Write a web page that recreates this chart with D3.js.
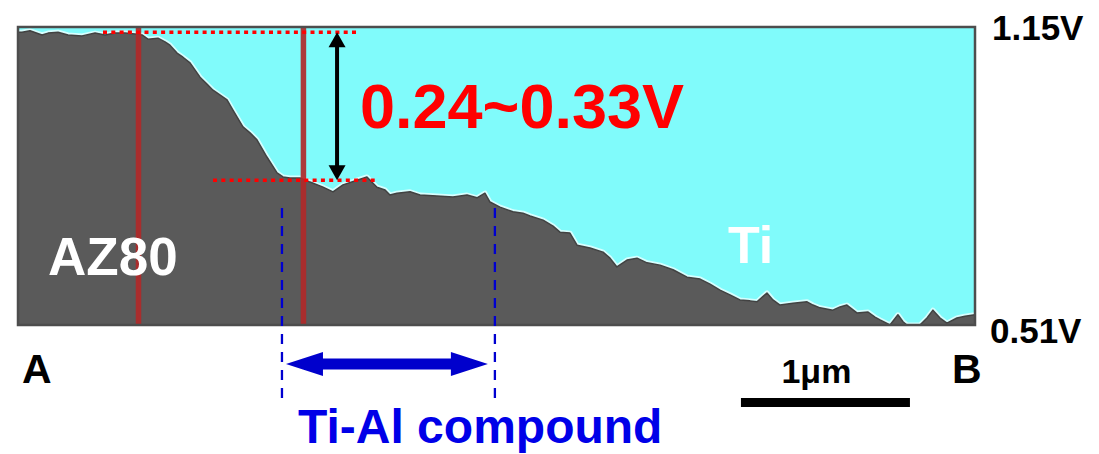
<!DOCTYPE html>
<html>
<head>
<meta charset="utf-8">
<script src="https://cdn.jsdelivr.net/npm/d3@7"></script>
<style>
  html, body { margin: 0; padding: 0; background: #fff; }
  svg { display: block; font-family: "Liberation Sans", Arial, sans-serif; font-weight: bold; }
</style>
</head>
<body>
<svg id="chart" width="1099" height="454"></svg>
<script>
// Surface potential profile along the line A -> B (distance in µm, potential in V)
const distance = [
  0.000, 0.024, 0.071, 0.142, 0.178, 0.237, 0.296, 0.379, 0.456, 0.515,
  0.574, 0.633, 0.692, 0.734, 0.769, 0.828, 0.870, 0.899, 0.941, 0.976,
  1.018, 1.077, 1.118, 1.154, 1.237, 1.272, 1.331, 1.373, 1.414, 1.473,
  1.533, 1.568, 1.609, 1.669, 1.728, 1.805, 1.864, 1.923, 2.006, 2.065,
  2.124, 2.172, 2.201, 2.243, 2.320, 2.379, 2.479, 2.574, 2.657, 2.716,
  2.763, 2.793, 2.852, 2.929, 2.988, 3.030, 3.107, 3.166, 3.207, 3.266,
  3.308, 3.385, 3.462, 3.503, 3.544, 3.604, 3.663, 3.722, 3.799, 3.876,
  3.959, 4.036, 4.095, 4.154, 4.213, 4.272, 4.331, 4.373, 4.432, 4.467,
  4.509, 4.586, 4.669, 4.704, 4.746, 4.822, 4.864, 4.905, 4.964, 5.030,
  5.071, 5.101, 5.160, 5.207, 5.237, 5.260, 5.337, 5.379, 5.414, 5.456,
  5.497, 5.556, 5.604, 5.663
];
const potential = [
  1.141, 1.141, 1.144, 1.135, 1.139, 1.141, 1.135, 1.133, 1.139, 1.135,
  1.139, 1.139, 1.137, 1.135, 1.126, 1.128, 1.120, 1.113, 1.096, 1.087,
  1.075, 1.044, 1.029, 1.016, 0.995, 0.973, 0.937, 0.924, 0.909, 0.872,
  0.838, 0.829, 0.827, 0.827, 0.818, 0.807, 0.797, 0.812, 0.822, 0.829,
  0.807, 0.801, 0.790, 0.794, 0.797, 0.790, 0.788, 0.786, 0.790, 0.784,
  0.794, 0.775, 0.764, 0.754, 0.751, 0.745, 0.736, 0.723, 0.710, 0.708,
  0.682, 0.676, 0.667, 0.654, 0.635, 0.650, 0.654, 0.644, 0.639, 0.629,
  0.613, 0.609, 0.598, 0.585, 0.575, 0.564, 0.562, 0.560, 0.579, 0.564,
  0.553, 0.557, 0.560, 0.553, 0.547, 0.542, 0.549, 0.553, 0.536, 0.538,
  0.527, 0.521, 0.510, 0.532, 0.517, 0.510, 0.510, 0.525, 0.542, 0.525,
  0.514, 0.525, 0.529, 0.532
];

// Axis extent labels
const vRange = [0.51, 1.15];
const vLabels = ["0.51V", "1.15V"];
const lineTotal = 5.663;           // µm from A to B
const endLabels = ["A", "B"];

// Annotations
const markerLines = [0.713, 1.689];        // red vertical markers (µm)
const levelTop = { v: 1.141, from: 0.503, to: 2.012 };
const levelLow = { v: 0.822, from: 1.154, to: 2.130 };
const diffArrowAt = 1.888;
const diffLabel = "0.24~0.33V";
const compoundSpan = [1.562, 2.822];
const compoundLabel = "Ti-Al compound";
const scaleBar = [4.278, 5.278];
const scaleLabel = "1μm";
const regionLabels = [
  { text: "AZ80", x: 0.178, v: 0.618, size: 53 },
  { text: "Ti", x: 4.201, v: 0.644, size: 52 }
];

const svg = d3.select("#chart");
const plotLeft = 18, plotRight = 975, plotTop = 28, plotBottom = 325;

const x = d3.scaleLinear().domain([0, lineTotal]).range([plotLeft, plotRight]);
const y = d3.scaleLinear().domain(vRange).range([plotBottom, plotTop]);

const pts = distance.map((d, i) => [d, potential[i]]);

const defs = svg.append("defs");
defs.append("clipPath").attr("id", "plotClip")
  .append("rect").attr("x", plotLeft).attr("y", plotTop)
  .attr("width", plotRight - plotLeft).attr("height", plotBottom - plotTop);

// Background (Ti side)
svg.append("rect").attr("x", plotLeft).attr("y", plotTop)
  .attr("width", plotRight - plotLeft).attr("height", plotBottom - plotTop)
  .attr("fill", "#80fbfb");

const plot = svg.append("g").attr("clip-path", "url(#plotClip)");

const line = d3.line().x(d => x(d[0])).y(d => y(d[1]));
const area = d3.area().x(d => x(d[0])).y0(plotBottom).y1(d => y(d[1]));

// light rim along the profile
plot.append("path").datum(pts).attr("d", line)
  .attr("fill", "none").attr("stroke", "#d6ffff").attr("stroke-width", 5).attr("stroke-linejoin", "round");

plot.append("path").datum(pts).attr("d", area).attr("fill", "#5a5a5a");

plot.append("path").datum(pts).attr("d", line)
  .attr("fill", "none").attr("stroke", "#424242").attr("stroke-width", 1.5).attr("stroke-linejoin", "round");

// red vertical markers
plot.selectAll("line.marker").data(markerLines).join("line").attr("class", "marker")
  .attr("x1", d => x(d)).attr("x2", d => x(d)).attr("y1", plotTop).attr("y2", plotBottom)
  .attr("stroke", "#b02a2a").attr("stroke-width", 5.5).attr("opacity", 0.92);

// frame
svg.append("rect").attr("x", plotLeft).attr("y", plotTop - 1)
  .attr("width", plotRight - plotLeft).attr("height", plotBottom - plotTop + 1)
  .attr("fill", "none").attr("stroke", "#4d4d4d").attr("stroke-width", 2.5);

// red dotted reference levels
[levelTop, levelLow].forEach(l => {
  svg.append("line")
    .attr("x1", x(l.from)).attr("x2", x(l.to)).attr("y1", y(l.v)).attr("y2", y(l.v))
    .attr("stroke", "#ff0000").attr("stroke-width", 3.5).attr("stroke-dasharray", "4,4.3");
});

// black double arrow for the potential difference
const ax = x(diffArrowAt), ay1 = y(levelTop.v), ay2 = y(levelLow.v);
const headH = 15, headW = 8.5;
svg.append("line").attr("x1", ax).attr("x2", ax).attr("y1", ay1 + headH - 2).attr("y2", ay2 - headH + 2)
  .attr("stroke", "#000").attr("stroke-width", 4);
svg.append("path").attr("fill", "#000")
  .attr("d", `M${ax},${ay1} L${ax - headW},${ay1 + headH} L${ax + headW},${ay1 + headH} Z`);
svg.append("path").attr("fill", "#000")
  .attr("d", `M${ax},${ay2} L${ax - headW},${ay2 - headH} L${ax + headW},${ay2 - headH} Z`);

svg.append("text").attr("x", 360).attr("y", 128).attr("fill", "#ff0000")
  .attr("font-size", 63).text(diffLabel);

// Ti-Al compound span
compoundSpan.forEach(d => {
  svg.append("line").attr("x1", x(d)).attr("x2", x(d)).attr("y1", 208).attr("y2", 400)
    .attr("stroke", "#0000d0").attr("stroke-width", 2.3).attr("stroke-dasharray", "10,8");
});
const bx1 = x(compoundSpan[0]) + 4, bx2 = x(compoundSpan[1]) - 7, by = 364;
const bHeadL = 37, bHeadW = 12, bShaft = 5.5;
svg.append("path").attr("fill", "#0000cc")
  .attr("d", `M${bx1},${by} L${bx1 + bHeadL},${by - bHeadW} L${bx1 + bHeadL},${by - bShaft}
              L${bx2 - bHeadL},${by - bShaft} L${bx2 - bHeadL},${by - bHeadW} L${bx2},${by}
              L${bx2 - bHeadL},${by + bHeadW} L${bx2 - bHeadL},${by + bShaft}
              L${bx1 + bHeadL},${by + bShaft} L${bx1 + bHeadL},${by + bHeadW} Z`);
svg.append("text").attr("x", 298).attr("y", 443).attr("fill", "#0000e8")
  .attr("font-size", 48).text(compoundLabel);

// region labels
regionLabels.forEach(r => {
  svg.append("text").attr("x", x(r.x)).attr("y", y(r.v)).attr("fill", "#fff")
    .attr("font-size", r.size).text(r.text);
});

// potential extent labels
svg.append("text").attr("x", 992).attr("y", 40).attr("font-size", 35).attr("fill", "#000").text(vLabels[1]);
svg.append("text").attr("x", 990).attr("y", 343).attr("font-size", 35).attr("fill", "#000").text(vLabels[0]);

// A / B end labels
svg.append("text").attr("x", 22).attr("y", 383).attr("font-size", 41).text(endLabels[0]);
svg.append("text").attr("x", 952).attr("y", 383).attr("font-size", 41).text(endLabels[1]);

// scale bar
svg.append("rect").attr("x", x(scaleBar[0])).attr("y", 398)
  .attr("width", x(scaleBar[1]) - x(scaleBar[0])).attr("height", 9).attr("fill", "#000");
svg.append("text").attr("x", (x(scaleBar[0]) + x(scaleBar[1])) / 2 - 9).attr("y", 383)
  .attr("text-anchor", "middle").attr("font-size", 34).text(scaleLabel);
</script>
</body>
</html>
